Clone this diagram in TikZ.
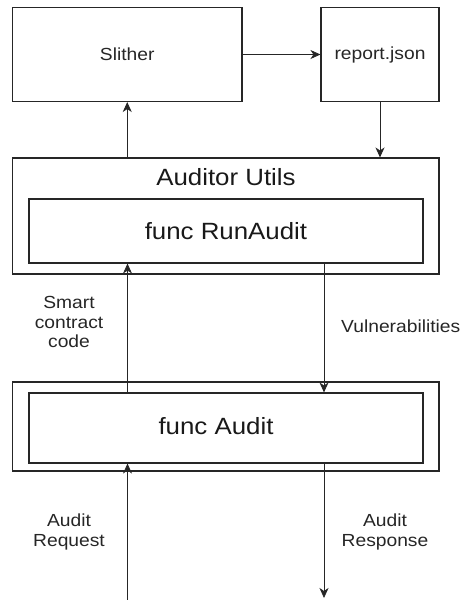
\documentclass[tikz,border=0pt]{standalone}
\usepackage{fontspec}
\setmainfont{Liberation Sans}[FakeStretch=1.1]
\usetikzlibrary{arrows.meta}
\begin{document}
\begin{tikzpicture}[x=1pt, y=-1pt,
		box/.style={draw=black!85, line width=1.1pt, inner sep=0pt},
		flow/.style={draw=black!85, line width=0.8pt, -{Stealth[length=10pt,width=9pt,inset=3pt]}},
		small/.style={text=black!85, font=\fontsize{17.5}{19.5}\selectfont, align=center},
		big/.style={text=black!90, font=\fontsize{23.5}{26}\selectfont}]
			\useasboundingbox (0,0) rectangle (464,600);
			\node[box, minimum width=229.5pt, minimum height=94pt, small] (slither) at (127.25,54.5) {Slither};
			\node[box, minimum width=118pt, minimum height=94pt, small] (report) at (380,54.5) {report.json};
			\node[box, minimum width=426.5pt, minimum height=116pt] (utils) at (225.75,216) {};
			\node[big] (utilstitle) at (226,177) {Auditor Utils};
			\node[box, minimum width=394pt, minimum height=64pt, big] (runaudit) at (226,231) {func RunAudit};
			\node[box, minimum width=426.5pt, minimum height=89pt] (auditwrap) at (225.75,426.5) {};
			\node[box, minimum width=394pt, minimum height=70pt] (audit) at (226,428) {};
			\node[big] (audittext) at (216,426) {func Audit};
			\coordinate (left) at (127.5,0);
			\coordinate (right) at (324,0);
			\coordinate (reqstart) at (127.5,600);
			\coordinate (respend) at (324,598);
			\draw[flow] (slither.east) -- (report.west);
			\draw[flow] (report.south) -- (report.south |- utils.north);
			\draw[flow] (utils.north -| slither) -- (slither.south);
			\draw[flow] (audit.north -| left) -- (runaudit.south -| left);
			\draw[flow] (runaudit.south -| right) -- (audit.north -| right);
			\draw[flow] (reqstart) -- (audit.south -| left);
			\draw[flow] (audit.south -| right) -- (respend);
			\node[small] (codelabel) at (69,322) {Smart\\contract\\code};
			\node[small, anchor=west, inner sep=0pt] (vulnlabel) at (341,326) {Vulnerabilities};
			\node[small] (reqlabel) at (69,532) {Audit\\Request};
			\node[small] (resplabel) at (385,532) {Audit\\Response};
		\end{tikzpicture}
\end{document}
